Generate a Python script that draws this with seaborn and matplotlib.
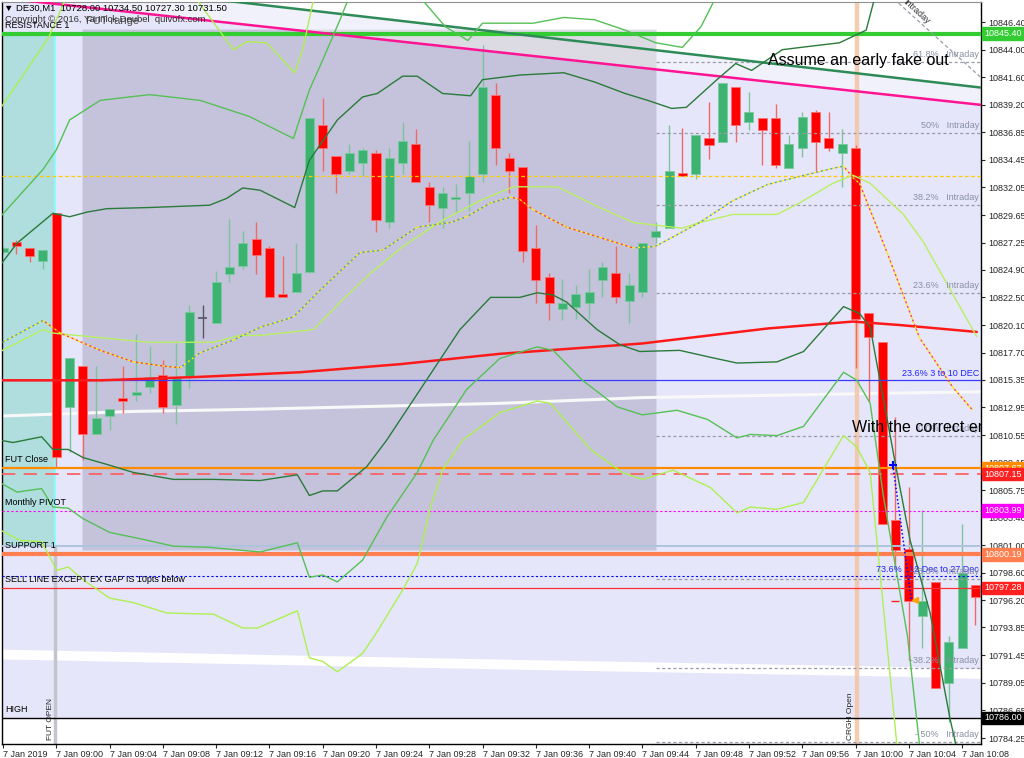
import numpy as np
import pandas as pd
import matplotlib
matplotlib.use("Agg")
import matplotlib.pyplot as plt
import matplotlib.transforms as mtransforms
import seaborn as sns

# DE30 M1, 7 Jan 2019, one candle per minute starting 08:56
opens = [10826.4, 10827.3, 10826.8, 10825.7, 10829.8, 10813.0, 10816.5, 10810.6, 10812.2, 10813.8,
         10814.0, 10814.7, 10815.8, 10813.2, 10815.7, 10820.7, 10820.3, 10824.5, 10825.2, 10827.6,
         10826.8, 10822.8, 10823.0, 10824.7, 10837.5, 10834.8, 10833.5, 10834.2, 10835.0, 10829.0,
         10834.2, 10835.8, 10832.1, 10830.3, 10831.0, 10831.6, 10833.2, 10840.1, 10834.6, 10833.8,
         10826.8, 10824.3, 10821.5, 10821.7, 10822.0, 10824.0, 10824.6, 10822.2, 10823.0, 10827.7,
         10828.5, 10833.3, 10833.2, 10836.3, 10836.0, 10840.8, 10837.7, 10838.1, 10838.1, 10833.7,
         10835.5, 10838.6, 10836.3, 10835.0, 10835.5, 10821.1, 10818.6, 10803.2, 10800.7, 10794.8,
         10797.8, 10789.0, 10792.1, 10797.5]
highs = [10826.9, 10827.5, 10826.8, 10826.6, 10829.8, 10817.2, 10816.5, 10816.5, 10812.8, 10816.5,
         10819.3, 10818.3, 10817.1, 10818.5, 10821.8, 10821.8, 10824.8, 10829.3, 10828.3, 10829.0,
         10827.0, 10826.1, 10827.2, 10838.1, 10839.8, 10834.8, 10835.8, 10835.5, 10835.3, 10835.5,
         10837.7, 10837.1, 10832.5, 10832.1, 10832.3, 10836.1, 10844.4, 10841.1, 10835.0, 10833.8,
         10828.8, 10824.6, 10824.1, 10823.6, 10825.0, 10825.6, 10827.0, 10824.6, 10827.2, 10829.0,
         10837.5, 10837.2, 10836.6, 10839.5, 10841.1, 10840.8, 10840.3, 10838.1, 10839.3, 10836.6,
         10838.6, 10838.8, 10838.6, 10837.1, 10835.7, 10821.1, 10818.6, 10812.1, 10806.0, 10804.0,
         10797.8, 10793.1, 10802.8, 10797.5]
lows = [10826.3, 10826.3, 10825.6, 10825.0, 10807.7, 10809.1, 10808.4, 10810.6, 10811.0, 10812.5,
        10813.5, 10814.2, 10812.5, 10811.5, 10814.6, 10819.0, 10820.3, 10823.8, 10825.0, 10824.5,
        10822.5, 10822.5, 10823.0, 10824.6, 10833.5, 10831.6, 10833.2, 10833.0, 10828.2, 10828.5,
        10833.2, 10832.5, 10829.0, 10828.5, 10829.8, 10830.0, 10832.5, 10834.0, 10831.6, 10825.6,
        10822.0, 10820.5, 10820.5, 10820.6, 10820.6, 10822.5, 10822.0, 10820.3, 10822.5, 10827.2,
        10828.5, 10833.0, 10832.8, 10834.5, 10836.0, 10836.0, 10837.0, 10834.0, 10833.7, 10833.7,
        10834.7, 10833.5, 10835.2, 10832.1, 10816.4, 10813.5, 10802.8, 10799.1, 10791.0, 10792.1,
        10788.6, 10785.6, 10792.1, 10794.1]
closes = [10826.8, 10827.0, 10826.1, 10826.6, 10808.6, 10817.2, 10810.6, 10812.0, 10812.8, 10813.5,
          10814.3, 10815.6, 10813.0, 10815.6, 10821.2, 10820.7, 10823.8, 10825.1, 10827.2, 10826.2,
          10822.5, 10822.5, 10824.6, 10838.1, 10835.5, 10833.2, 10835.0, 10835.3, 10829.2, 10834.6,
          10836.1, 10832.5, 10830.5, 10831.6, 10831.2, 10833.0, 10840.8, 10835.5, 10833.5, 10826.5,
          10824.0, 10822.0, 10822.0, 10822.8, 10823.0, 10825.1, 10822.5, 10823.6, 10827.2, 10828.3,
          10833.5, 10833.0, 10836.6, 10835.7, 10841.1, 10837.5, 10838.6, 10837.0, 10834.0, 10835.8,
          10838.2, 10836.0, 10835.5, 10835.8, 10820.6, 10819.1, 10802.8, 10800.6, 10796.1, 10796.1,
          10788.6, 10792.6, 10798.6, 10796.5]

xtick_labels = ["7 Jan 2019", "7 Jan 09:00", "7 Jan 09:04", "7 Jan 09:08", "7 Jan 09:12",
                "7 Jan 09:16", "7 Jan 09:20", "7 Jan 09:24", "7 Jan 09:28", "7 Jan 09:32",
                "7 Jan 09:36", "7 Jan 09:40", "7 Jan 09:44", "7 Jan 09:48", "7 Jan 09:52",
                "7 Jan 09:56", "7 Jan 10:00", "7 Jan 10:04", "7 Jan 10:08"]
ytick_values = [10846.40, 10844.00, 10841.60, 10839.20, 10836.85, 10834.45, 10832.05, 10829.65,
                10827.25, 10824.90, 10822.50, 10820.10, 10817.70, 10815.35, 10812.95, 10810.55,
                10808.15, 10805.75, 10803.40, 10801.00, 10798.60, 10796.20, 10793.85, 10791.45,
                10789.05, 10786.65, 10784.25]

# indicators (x in minutes since 08:56)
bb1_up_x = [-0.2, 1.05, 3.75, 5.0, 6.3, 7.8, 11.0, 15.5, 16.8, 18.0, 19.3, 21.9, 23.0, 25.1, 27.0, 28.1,
            30.0, 31.1, 33.0, 35.1, 36.0, 38.8, 42.1, 44.4, 46.7, 48.4, 50.2, 51.3, 53.6, 55.0, 56.2,
            58.5, 59.9, 62.8, 64.8, 65.6]
bb1_up_y = [10825.3, 10827.2, 10829.8, 10829.5, 10829.9, 10830.2, 10830.3, 10830.5, 10831.1, 10832.0,
            10831.8, 10830.3, 10834.4, 10837.9, 10839.9, 10840.2, 10841.7, 10841.7, 10840.2, 10840.0,
            10841.4, 10841.8, 10842.0, 10841.2, 10840.2, 10839.6, 10838.9, 10839.0, 10841.4, 10842.8,
            10842.2, 10844.0, 10844.2, 10844.6, 10845.7, 10849.2]
bb1_dn_x = [-0.2, 0.75, 2.9, 3.75, 4.9, 6.0, 7.8, 9.8, 12.8, 15.8, 19.3, 22.1, 23.0, 24.0, 25.1, 27.3,
            28.8, 34.3, 36.6, 38.8, 40.1, 41.3, 42.3, 44.6, 46.3, 47.8, 50.8, 53.1, 55.1, 58.1, 60.1,
            63.1, 64.3, 65.1, 67.0, 68.1, 69.6, 71.1, 71.8]
bb1_dn_y = [10810.1, 10809.9, 10810.4, 10809.3, 10809.3, 10808.6, 10808.0, 10807.3, 10806.7, 10806.7,
            10806.6, 10807.1, 10805.3, 10805.7, 10805.7, 10807.8, 10810.1, 10819.7, 10822.5, 10822.5,
            10822.9, 10822.7, 10822.1, 10819.7, 10818.4, 10817.8, 10817.9, 10817.3, 10816.8, 10816.9,
            10817.8, 10821.7, 10821.1, 10819.9, 10808.0, 10801.4, 10795.1, 10785.9, 10782.3]
bb2_up_x = [-0.2, 3.0, 4.0, 5.0, 7.3, 11.0, 14.8, 18.5, 21.8, 23.0, 24.0, 25.3, 26.8, 29.8, 31.5, 33.2,
            34.9, 36.0, 39.8, 42.1, 44.4, 46.7, 49.0, 51.0, 52.4, 53.8]
bb2_up_y = [10829.5, 10833.6, 10835.3, 10837.9, 10839.6, 10840.1, 10839.6, 10838.2, 10836.3, 10840.5,
            10843.1, 10846.6, 10850.9, 10850.9, 10848.3, 10846.0, 10844.8, 10846.3, 10846.3, 10846.8,
            10846.6, 10845.7, 10844.6, 10844.2, 10846.0, 10849.2]
bb2_dn_x = [-0.2, 1.05, 2.9, 3.75, 4.9, 6.0, 8.0, 10.5, 12.8, 15.5, 19.3, 22.1, 23.0, 24.0, 25.1, 27.0,
            28.8, 31.1, 32.3, 34.8, 37.3, 40.1, 41.3, 43.5, 46.1, 48.0, 50.6, 52.9, 55.1, 56.1, 58.1,
            60.1, 63.1, 64.1, 65.1, 66.1, 67.9, 68.8]
bb2_dn_y = [10806.4, 10805.6, 10805.9, 10804.3, 10804.2, 10803.3, 10802.1, 10801.5, 10800.9, 10800.8,
            10800.4, 10801.2, 10798.2, 10798.4, 10797.8, 10799.7, 10803.4, 10807.3, 10810.1, 10814.5,
            10817.2, 10818.2, 10817.9, 10815.3, 10813.0, 10812.3, 10812.7, 10811.9, 10810.3, 10810.6,
            10810.5, 10811.3, 10816.0, 10815.3, 10813.3, 10805.2, 10793.1, 10783.7]
bb3_up_x = [-0.2, 3.4, 5.0, 14.0, 17.3, 18.3, 19.8, 21.9, 22.5, 23.3, 23.8]
bb3_up_y = [10838.9, 10845.0, 10849.2, 10849.2, 10844.0, 10844.7, 10844.6, 10842.0, 10844.0, 10848.3, 10849.2]
bb3_dn_x = [-0.2, 1.3, 2.9, 4.05, 4.9, 6.0, 8.0, 9.8, 12.3, 15.8, 18.0, 19.1, 22.1, 23.0, 24.0, 25.1,
            27.0, 28.1, 30.0, 31.1, 32.1, 33.0, 34.5, 37.3, 40.1, 41.1, 44.1, 46.5, 48.0, 50.3, 53.1,
            55.1, 56.1, 58.1, 60.1, 63.1, 64.1, 65.1, 67.1]
bb3_dn_y = [10802.3, 10801.4, 10801.3, 10798.8, 10799.1, 10798.0, 10796.4, 10796.0, 10795.1, 10795.0,
            10793.8, 10793.8, 10795.3, 10791.2, 10790.9, 10790.0, 10791.6, 10793.5, 10797.1, 10799.4,
            10804.3, 10807.5, 10810.1, 10812.5, 10813.5, 10813.3, 10809.3, 10807.3, 10806.7, 10807.5,
            10806.0, 10803.8, 10804.3, 10804.1, 10804.7, 10810.5, 10809.5, 10807.3, 10783.7]
mid_x = [-0.2, 3.0, 3.75, 7.3, 11.0, 15.8, 17.8, 19.3, 23.3, 25.5, 27.6, 30.0, 33.0, 36.0, 38.3, 41.6,
         44.8, 47.3, 51.0, 52.3, 54.8, 58.1, 59.8, 62.3, 63.8, 65.1, 67.6, 69.1, 73.1]
mid_y = [10817.8, 10819.7, 10819.4, 10819.0, 10818.6, 10818.6, 10819.2, 10819.2, 10819.7, 10822.3,
         10824.6, 10826.9, 10829.2, 10831.0, 10832.1, 10832.1, 10830.3, 10829.0, 10828.5, 10829.0,
         10829.7, 10829.7, 10830.7, 10832.4, 10833.1, 10832.4, 10829.7, 10827.3, 10819.1]
dot_x = [-0.2, 3.0, 4.3, 7.3, 9.8, 12.3, 13.3, 14.8, 17.3, 19.3, 21.8, 23.6, 26.8, 28.5, 31.1, 33.6,
         34.8, 36.6, 38.1, 38.8, 39.8, 42.3, 44.8, 47.3, 48.8, 49.1, 52.3, 54.8, 57.4, 59.8, 62.3,
         63.1, 63.8, 64.3, 66.4, 68.8, 71.3, 72.8]
dot_y = [10818.5, 10820.5, 10819.4, 10817.9, 10816.9, 10816.5, 10816.4, 10817.7, 10818.8, 10819.9,
         10820.8, 10822.9, 10826.4, 10826.6, 10828.6, 10829.0, 10829.5, 10830.7, 10831.2, 10831.0,
         10830.1, 10828.6, 10827.7, 10826.8, 10826.9, 10827.0, 10829.0, 10830.9, 10832.3, 10833.0,
         10833.7, 10833.9, 10832.9, 10832.4, 10826.3, 10819.0, 10814.7, 10812.7]
red_ma_x = [-0.2, 7.3, 14.8, 22.3, 29.8, 37.3, 48.0, 57.4, 63.8, 67.3, 73.1]
red_ma_y = [10815.3, 10815.3, 10815.6, 10816.0, 10816.7, 10817.6, 10818.5, 10819.8, 10820.4, 10820.1, 10819.5]
white_ma_x = [-0.2, 9.8, 14.8, 19.3, 37.3, 48.0, 67.3, 73.4]
white_ma_y = [10812.2, 10812.6, 10812.7, 10812.8, 10813.3, 10813.8, 10814.2, 10814.3]
white_band_x = [-0.2, 38.8, 67.3, 73.4]
white_band_y = [10791.5, 10790.6, 10790.0, 10789.8]

# trend lines and drawn objects
edge_x = [-0.2, 73.5]
pink_trend_y = [10848.5, 10839.2]
green_trend_y = [10850.5, 10840.7]
intraday_diag_x = [66.6, 73.4]
intraday_diag_y = [10848.7, 10841.6]
range_box = (5.93, 49.02, 10800.57, 10845.79)     # FUT range: x0, x1, low, high
open_box = (-0.2, 3.9, 10800.83, 10845.27)
fut_open_x = 3.88
crgh_open_x = 64.1
fib_start_x = 49.0

resistance1 = 10845.40
yellow_level = 10833.0
dec_fib = 10815.33
fut_close = 10807.67
red_level = 10807.15
monthly_pivot = 10803.99
steel_level = 10800.9
support1 = 10800.19
fib_736 = 10798.31
sell_line = 10797.28
high_line = 10786.00
intraday_labels = ["61.8%", "50%", "38.2%", "23.6%", "0.0%", "-23.6%", "-38.2%", "- 50%"]
intraday_levels = [10842.97, 10836.76, 10830.52, 10822.88, 10810.46, 10798.05, 10790.33, 10783.90]
trade_x = [66.8, 68.2]
trade_y = [10807.95, 10796.2]

sns.set_style("white")
plt.rcParams['font.family'] = ['Liberation Sans', 'DejaVu Sans']

fig = plt.figure(figsize=(10.24, 7.58), dpi=100)
ax = fig.add_axes([2 / 1024, 14 / 758, 979 / 1024, 742 / 758])
ax.set_facecolor('white')
ax.set_xlim(-0.075, 73.42)
ax.set_ylim(10783.73, 10848.14)

# backgrounds
ax.fill_between(edge_x, high_line, pink_trend_y, color='#e6e6fa', lw=0, zorder=0.1)
ax.fill_between(edge_x, pink_trend_y, green_trend_y, color='#f1f1fc', lw=0, zorder=0.1)
bx = np.linspace(range_box[0], range_box[1], 60)
pink_at = np.interp(bx, edge_x, pink_trend_y)
ax.fill_between(bx, range_box[2], np.minimum(pink_at, range_box[3]), color='#c5c3db', lw=0, zorder=0.3)
ax.fill_between(bx, np.minimum(pink_at, range_box[3]), range_box[3], color='#dcdbe4', lw=0, zorder=0.3)
ax.fill_between(open_box[:2], open_box[2], open_box[3], color='#b0dddd', lw=0, zorder=0.3)


def curve(xs, ys, color, lw, z=3, **kw):
    sns.lineplot(x=xs, y=ys, ax=ax, color=color, linewidth=lw, estimator=None,
                 sort=False, legend=False, zorder=z, **kw)


curve(white_band_x, white_band_y, 'white', 7, z=0.8)
curve(white_ma_x, white_ma_y, '#f8f8f8', 2.2, z=0.8)

ax.axvline(crgh_open_x, color='#f3c3a3', lw=3.2, alpha=0.85, zorder=0.9)
ax.plot([fut_open_x, fut_open_x], [10783.7, open_box[2]], color='#c4c4cc', lw=2.5, zorder=0.9)
ax.plot([fut_open_x, fut_open_x], [open_box[2], open_box[3]], color='#80ffff', lw=1.2, zorder=0.9)

# candles
idx = np.arange(len(opens))
o, h, l, c = (np.array(v) for v in (opens, highs, lows, closes))
bull, bear, doji = c > o, c < o, c == o
ax.vlines(idx[bull], l[bull], h[bull], color='#7cc49c', lw=1, zorder=2)
ax.vlines(idx[bear], l[bear], h[bear], color='#f06868', lw=1, zorder=2)
ax.vlines(idx[doji], l[doji], h[doji], color='#555566', lw=1, zorder=2)
ax.bar(idx[bull], (c - o)[bull], bottom=o[bull], width=0.68, color='#3cb371',
       edgecolor='#7cc9a0', lw=0.6, zorder=2.2)
ax.bar(idx[bear], (o - c)[bear], bottom=c[bear], width=0.68, color='#ff0000',
       edgecolor='#ff7070', lw=0.6, zorder=2.2)
ax.hlines(o[doji], idx[doji] - 0.34, idx[doji] + 0.34, color='#555566', lw=1.2, zorder=2.2)

# horizontal levels
ax.axhline(resistance1, color='#33cc33', lw=3, zorder=2.6)
ax.axhline(yellow_level, color='#ffcc00', lw=0.9, ls=(0, (3, 2)), zorder=2.6)
ax.axhline(dec_fib, color='#3a3aff', lw=0.9, zorder=2.6)
ax.axhline(fut_close, color='#ff8c00', lw=1.6, zorder=2.6)
ax.axhline(red_level, color='#ff5a5a', lw=1.2, ls=(0, (8, 5)), zorder=2.6)
ax.axhline(monthly_pivot, color='#ff00ff', lw=0.8, ls=(0, (2, 2)), zorder=2.6)
ax.axhline(steel_level, color='#b0c4de', lw=1.4, zorder=2.6)
ax.axhline(support1, color='#ff7f50', lw=3, zorder=2.6)
ax.axhline(fib_736, color='#0000ff', lw=0.8, ls=(0, (2, 2)), zorder=2.6)
ax.axhline(sell_line, color='#ff3030', lw=0.9, zorder=2.6)
ax.axhline(high_line, color='black', lw=1, zorder=2.6)
for lev in intraday_levels:
    ax.plot([fib_start_x, 73.42], [lev, lev], color='#9a9aaa', lw=0.9, ls=(0, (2.5, 2)), zorder=2.5)

# trend lines
ax.plot(edge_x, pink_trend_y, color='#ff1493', lw=1.8, zorder=2.7)
ax.plot(edge_x, green_trend_y, color='#2e8b57', lw=1.8, zorder=2.7)
ax.plot(intraday_diag_x, intraday_diag_y, color='#9a9aaa', lw=0.9, ls=(0, (3, 2)), zorder=2.7)

# moving averages and bands
curve(red_ma_x, red_ma_y, '#ff1a1a', 1.8)
curve(mid_x, mid_y, '#b8f060', 1.0)
curve(bb1_up_x, bb1_up_y, '#2a7a3a', 1.0)
curve(bb1_dn_x, bb1_dn_y, '#2a7a3a', 1.0)
curve(bb2_up_x, bb2_up_y, '#55c055', 1.0)
curve(bb2_dn_x, bb2_dn_y, '#55c055', 1.0)
curve(bb3_up_x, bb3_up_y, '#adf050', 1.0)
curve(bb3_dn_x, bb3_dn_y, '#adf050', 1.0)
for i in range(len(dot_x) - 1):
    col = '#ff4040' if dot_y[i + 1] < dot_y[i] else '#5aa0a0'
    ax.plot(dot_x[i:i + 2], dot_y[i:i + 2], color='#ffee00', lw=1.0, ls=(0, (1.5, 2)), zorder=3)
    ax.plot(dot_x[i:i + 2], dot_y[i:i + 2], color=col, lw=1.0, ls=(1.7, (1.5, 2)), zorder=3)

# trade marks
ax.plot(trade_x, trade_y, color='#0000ff', lw=1.1, ls=(0, (1, 1.5)), zorder=4)
ax.plot(trade_x[0], trade_y[0], marker='+', color='#0000ff', ms=6, mew=1.5, zorder=4)
ax.plot(trade_x[1] + 0.3, trade_y[1], marker='<', color='#ffa500', ms=4, zorder=4)
ax.plot(trade_x[0] + 0.2, trade_y[1] - 0.1, marker='_', color='#ff2020', ms=6, zorder=4)

# texts
left = mtransforms.blended_transform_factory(ax.transAxes, ax.transData)
small = dict(fontsize=6.5, zorder=6)
for txt, lev in [("RESISTANCE 1", resistance1), ("FUT Close", fut_close), ("Monthly PIVOT", monthly_pivot),
                 ("SUPPORT 1", support1), ("SELL LINE EXCEPT EX GAP IS 10pts below", sell_line),
                 ("HIGH", high_line)]:
    ax.text(0.003, lev + 0.35, txt, transform=left, va='bottom', ha='left', color='black', **small)
ax.text(0.998, dec_fib + 0.2, "23.6% 3 to 10 DEC", transform=left, va='bottom', ha='right',
        color='#2020ff', **small)
ax.text(0.998, fib_736 + 0.2, "73.6%   12 Dec to 27 Dec", transform=left, va='bottom', ha='right',
        color='#2020ff', **small)
for lab, lev in zip(intraday_labels, intraday_levels):
    ax.text(0.998, lev + 0.25, f"{lab}   Intraday", transform=left, va='bottom', ha='right',
            color='#8890a4', **small)
ax.text(67.4, 10848.0, "Intraday", rotation=-42, rotation_mode='anchor', fontsize=6.5,
        color='#333333', ha='left', va='bottom', zorder=6)
ax.text(fut_open_x - 0.35, 10784.1, "FUT OPEN", rotation=90, fontsize=6, ha='center', va='bottom', zorder=6)
ax.text(crgh_open_x - 0.45, 10784.1, "CRGH Open", rotation=90, fontsize=6, ha='center', va='bottom', zorder=6)
ax.text(57.4, 10843.1, "Assume an early fake out", fontsize=11.5, va='center', ha='left',
        color='black', zorder=7)
ax.text(63.7, 10811.2, "With the correct entry", fontsize=11.5, va='center', ha='left',
        color='black', zorder=7, clip_on=True)
ax.text(6.2, 10846.5, "FUT range", fontsize=8, color='#505050', va='center', ha='left', zorder=6)

fig.text(4 / 1024, 1 - 8 / 758, "\u25bc DE30,M1  10728.00 10734.50 10727.30 10731.50",
         fontsize=6.8, va='center', ha='left', color='black')
fig.text(5 / 1024, 1 - 19 / 758, "Copyright \u00a9 2016, Yannick Deubel  quivofx.com",
         fontsize=6.8, va='center', ha='left', color='#303030')


# price tags on the right axis
def tag(price, fc, tc='white'):
    ax.annotate(f"{price:.2f}", xy=(1.0, price), xycoords=('axes fraction', 'data'),
                xytext=(2.2, 0), textcoords='offset points', ha='left', va='center',
                fontsize=6.5, color=tc, annotation_clip=False, zorder=10,
                bbox=dict(boxstyle='square,pad=0.18', fc=fc, ec=fc))


tag(resistance1, '#33cc33')
tag(fut_close, '#ff8c00')
tag(red_level, '#ff2020')
tag(monthly_pivot, '#ff00ff')
tag(support1, '#ff7f50')
tag(sell_line, '#ff2020')
tag(high_line, 'black')

# axes
ax.yaxis.tick_right()
ax.set_yticks(ytick_values)
ax.set_yticklabels([f"{v:.2f}" for v in ytick_values])
ax.set_xticks(np.arange(0, 73, 4))
ax.set_xticklabels(xtick_labels)
for lbl in ax.get_xticklabels():
    lbl.set_ha('left')
ax.tick_params(axis='y', direction='out', length=3, width=0.8, pad=2, labelsize=6.5, right=True, left=False)
ax.tick_params(axis='x', direction='out', length=3, width=0.8, pad=1, labelsize=6.5, bottom=True)
for side in ['left', 'right', 'bottom']:
    ax.spines[side].set_color('black')
    ax.spines[side].set_linewidth(1)
ax.spines['top'].set_color('#909090')
ax.set_xlabel('')
ax.set_ylabel('')
ax.grid(False)

fig.savefig('out.png', dpi=100)
